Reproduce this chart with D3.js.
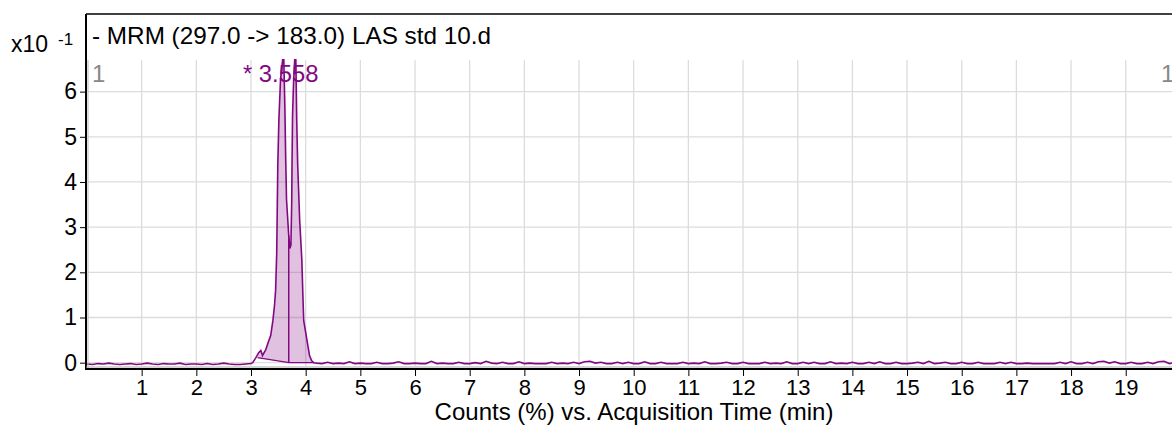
<!DOCTYPE html>
<html>
<head>
<meta charset="utf-8">
<title>MRM chromatogram</title>
<script src="https://d3js.org/d3.v7.min.js"></script>
<style>
  body { margin: 0; background: #fff; }
  svg text { font-family: "Liberation Sans", Arial, sans-serif; }
</style>
</head>
<body>
<svg width="1172" height="425"></svg>
<script>
// ---- data ----
const title = "- MRM (297.0 -> 183.0) LAS std 10.d";
const xTicks = [1,2,3,4,5,6,7,8,9,10,11,12,13,14,15,16,17,18,19];
const yTicks = [0,1,2,3,4,5,6];
const peakLabel = "* 3.558";

// baseline noise before the peak, every 0.1 min from 0.0
const preTimes0 = 0.0;
const preVals = [
  -0.03,-0.04,-0.02,-0.03,-0.01,-0.03,-0.04,-0.03,-0.02,-0.04,
  -0.03,-0.01,-0.03,-0.04,-0.02,-0.03,-0.03,-0.01,-0.04,-0.03,
  -0.03,-0.04,-0.02,-0.04,-0.03,-0.01,-0.03,-0.04,-0.04,-0.03,
  -0.02
];
// the peak itself (time, value x10^-1)
const peakTimes = [3.03,3.09,3.14,3.18,3.21,3.27,3.32,3.36,3.40,3.43,3.45,3.47,3.476,3.49,3.51,3.54,3.58,3.60,3.62,3.635,3.65,3.69,3.71,3.73,3.745,3.75,3.76,3.78,3.80,3.82,3.836,3.854,3.89,3.93,3.946,3.964,4.00,4.04,4.07,4.11,4.15];
const peakVals  = [0.00,0.11,0.22,0.27,0.16,0.29,0.47,0.60,0.93,1.27,1.60,2.42,3.00,4.38,5.38,6.27,6.72,6.72,5.60,4.49,3.60,2.82,2.53,2.60,3.60,4.38,5.49,6.27,6.72,6.72,5.38,4.38,3.16,2.27,1.60,0.93,0.67,0.38,0.16,0.04,0.00];
// baseline noise after the peak, every 0.1 min from 4.2
const postTimes0 = 4.2;
const postVals = [
  -0.01,-0.02,0.01,-0.02,-0.01,-0.02,0.02,-0.02,-0.01,-0.02,
  -0.02,0.01,-0.02,-0.02,-0.01,0.02,-0.02,-0.02,-0.01,-0.02,
  -0.02,0.03,-0.02,-0.01,-0.02,-0.02,0.01,-0.02,-0.02,0.00,
  -0.02,0.03,-0.01,-0.02,0.01,-0.02,-0.02,0.02,-0.02,-0.01,
  -0.02,-0.02,-0.02,0.01,-0.02,-0.01,-0.02,0.01,-0.02,0.02,
  0.03,-0.01,0.01,-0.02,-0.02,0.01,-0.02,0.01,-0.02,-0.02,
  0.02,-0.02,-0.02,0.01,-0.02,-0.02,-0.02,0.01,-0.02,-0.01,
  -0.02,0.02,-0.02,-0.02,-0.01,0.01,-0.02,-0.02,0.01,-0.02,
  -0.02,-0.02,0.01,-0.02,-0.01,-0.02,0.02,-0.02,-0.02,0.01,
  -0.02,0.01,-0.02,-0.02,0.02,-0.02,-0.01,-0.02,0.01,-0.02,
  -0.02,0.01,-0.02,0.02,-0.02,-0.02,0.01,-0.02,-0.02,-0.01,
  0.01,-0.02,0.03,-0.02,-0.01,0.01,-0.02,-0.02,0.01,-0.02,
  -0.02,0.01,-0.02,-0.02,-0.02,0.01,-0.02,0.01,-0.02,-0.02,
  -0.01,-0.02,-0.02,-0.02,-0.02,-0.02,0.01,-0.02,0.02,-0.02,
  -0.02,0.01,-0.02,0.02,0.03,-0.01,0.02,-0.02,-0.02,0.01,
  -0.02,-0.02,0.01,-0.02,0.02,0.03,-0.02,0.01,-0.01
];
// integration baseline and split line of the peak
const baseTimes = [3.12, 3.69, 4.15];
const baseVals  = [0.11, 0.00, 0.00];
const splitTime = 3.69;

// ---- build series ----
const trace = [];
preVals.forEach((v, i) => trace.push([preTimes0 + i * 0.1, v]));
peakTimes.forEach((t, i) => trace.push([t, peakVals[i]]));
postVals.forEach((v, i) => trace.push([postTimes0 + i * 0.1, v]));

// ---- layout ----
const svg = d3.select("svg");
const frameLeft = 86, frameTop = 14, plotTop = 60, plotBottom = 369;
const purple = "#820882";

const x = d3.scaleLinear().domain([0, 20]).range([87, 87 + 20 * 54.67]);
const y = d3.scaleLinear().domain([-0.14, 6.70]).range([plotBottom, plotTop]);

svg.append("defs").append("clipPath").attr("id", "plot")
  .append("rect").attr("x", frameLeft + 1).attr("y", plotTop - 1)
  .attr("width", 1172 - frameLeft).attr("height", plotBottom - plotTop);

// grid
const grid = svg.append("g");
grid.selectAll(".vg").data(xTicks).enter().append("line")
  .attr("x1", d => x(d)).attr("x2", d => x(d))
  .attr("y1", plotTop).attr("y2", plotBottom - 3)
  .attr("stroke", "#dcdcdc").attr("stroke-width", 1.3);
grid.selectAll(".hg").data(yTicks).enter().append("line")
  .attr("x1", frameLeft + 2).attr("x2", 1172)
  .attr("y1", d => y(d)).attr("y2", d => y(d))
  .attr("stroke", "#dcdcdc").attr("stroke-width", 1.3);

// peak fill
const plot = svg.append("g").attr("clip-path", "url(#plot)");
const inPeak = trace.filter(d => d[0] >= baseTimes[0] && d[0] <= baseTimes[2]);
const basePts = baseTimes.map((t, i) => [t, baseVals[i]]);
const line = d3.line().x(d => x(d[0])).y(d => y(d[1]));
plot.append("path")
  .attr("d", line(inPeak.concat(basePts.slice().reverse())) + "Z")
  .attr("fill", "rgba(130,8,130,0.25)");
plot.append("path").attr("d", line(basePts))
  .attr("fill", "none").attr("stroke", purple).attr("stroke-width", 1.3);
const splitVal = d3.scaleLinear().domain(peakTimes).range(peakVals)(splitTime);
plot.append("line")
  .attr("x1", x(splitTime)).attr("x2", x(splitTime))
  .attr("y1", y(0)).attr("y2", y(splitVal))
  .attr("stroke", purple).attr("stroke-width", 1.5);

// trace
plot.append("path").datum(trace)
  .attr("d", line)
  .attr("fill", "none").attr("stroke", purple).attr("stroke-width", 1.6);

// frame
svg.append("line").attr("x1", frameLeft).attr("x2", 1172).attr("y1", frameTop).attr("y2", frameTop)
  .attr("stroke", "#000").attr("stroke-width", 1.5);
svg.append("line").attr("x1", frameLeft).attr("x2", frameLeft).attr("y1", frameTop).attr("y2", plotBottom + 1)
  .attr("stroke", "#000").attr("stroke-width", 2);
svg.append("line").attr("x1", frameLeft + 2).attr("x2", frameLeft + 2).attr("y1", plotTop).attr("y2", plotBottom)
  .attr("stroke", "#bbb").attr("stroke-width", 1);
svg.append("line").attr("x1", frameLeft).attr("x2", 1172).attr("y1", plotBottom - 2).attr("y2", plotBottom - 2)
  .attr("stroke", "#aaa").attr("stroke-width", 1);
svg.append("line").attr("x1", frameLeft).attr("x2", 1172).attr("y1", plotBottom).attr("y2", plotBottom)
  .attr("stroke", "#000").attr("stroke-width", 2);

// axes
const yAxis = svg.append("g").attr("transform", `translate(${frameLeft},0)`)
  .call(d3.axisLeft(y).tickValues(yTicks).tickSize(6).tickPadding(3).tickFormat(d3.format("d")));
yAxis.select(".domain").remove();
yAxis.selectAll("line").attr("stroke", "#000");
yAxis.selectAll("text").attr("font-size", 23).attr("fill", "#000")
  .attr("font-family", "Liberation Sans, Arial, sans-serif");

const xAxis = svg.append("g").attr("transform", `translate(0,${plotBottom + 1})`)
  .call(d3.axisBottom(x).tickValues(xTicks).tickSize(6).tickPadding(3).tickFormat(d3.format("d")));
xAxis.select(".domain").remove();
xAxis.selectAll("line").attr("stroke", "#000");
xAxis.selectAll("text").attr("font-size", 22).attr("fill", "#000")
  .attr("font-family", "Liberation Sans, Arial, sans-serif");

// texts
svg.append("text").attr("x", 634).attr("y", 420).attr("text-anchor", "middle")
  .attr("font-size", 24).text("Counts (%) vs. Acquisition Time (min)");
svg.append("text").attr("x", 92).attr("y", 44).attr("font-size", 24.3).text(title);
svg.append("text").attr("x", 11).attr("y", 52).attr("font-size", 23).text("x10");
svg.append("text").attr("x", 58).attr("y", 45).attr("font-size", 17).text("-1");
svg.append("text").attr("x", 92).attr("y", 82).attr("font-size", 24).attr("fill", "#888").text("1");
svg.append("text").attr("x", 1161).attr("y", 82).attr("font-size", 24).attr("fill", "#888").text("1");
svg.append("text").attr("x", 243).attr("y", 82).attr("font-size", 23.8).attr("fill", purple).text(peakLabel);
</script>
</body>
</html>
